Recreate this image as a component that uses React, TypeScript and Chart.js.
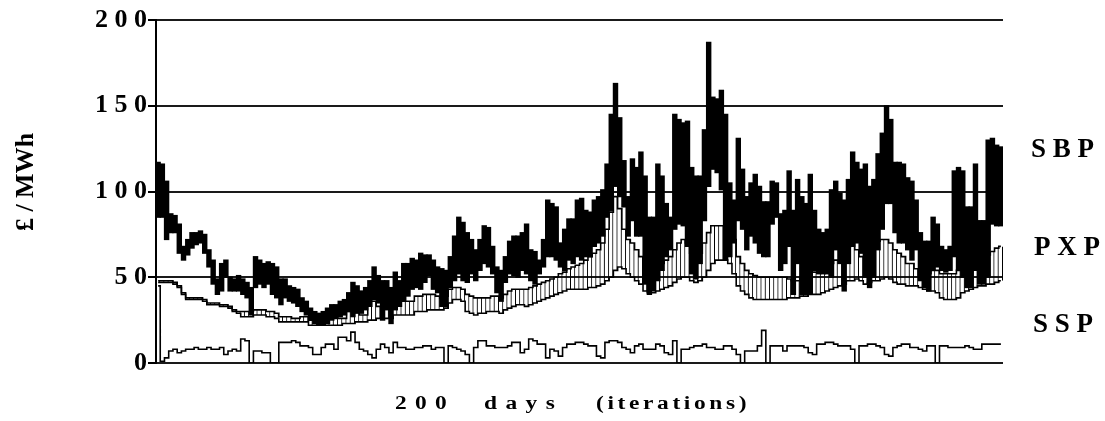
import React, { useEffect, useRef } from 'react';
import { Chart, registerables } from 'chart.js';

Chart.register(...registerables);

// 200 days (iterations)
const days: string[] = Array.from({ length: 200 }, (_, i) => String(i + 1));

// System Buy Price: daily high / low (£/MWh)
const sbpHigh: number[] = [
  117, 116, 106, 87, 86, 81, 68, 72, 76, 76,
  77, 75, 66, 60, 49, 58, 60, 50, 49, 51,
  49, 47, 44, 62, 60, 58, 59, 58, 56, 49,
  49, 45, 44, 43, 38, 36, 32, 30, 29, 30,
  32, 34, 34, 36, 37, 41, 47, 45, 42, 44,
  48, 56, 51, 48, 48, 44, 53, 48, 58, 58,
  61, 60, 64, 63, 63, 60, 56, 55, 54, 62,
  74, 85, 82, 76, 72, 66, 72, 80, 79, 68,
  56, 54, 62, 71, 74, 74, 76, 81, 66, 65,
  60, 72, 95, 93, 91, 70, 78, 84, 84, 95,
  96, 89, 88, 95, 97, 101, 116, 145, 163, 143,
  118, 97, 119, 114, 123, 109, 85, 85, 116, 109,
  93, 85, 145, 142, 140, 141, 114, 109, 109, 136,
  187, 155, 154, 159, 145, 105, 95, 131, 113, 97,
  105, 110, 103, 94, 94, 106, 105, 87, 89, 112,
  89, 107, 97, 93, 110, 89, 78, 76, 78, 101,
  106, 99, 95, 107, 123, 117, 113, 116, 103, 107,
  122, 134, 150, 142, 117, 117, 116, 108, 106, 95,
  76, 71, 71, 85, 81, 68, 66, 68, 112, 114,
  112, 91, 91, 116, 83, 83, 130, 131, 127, 126,
];
const sbpLow: number[] = [
  85, 85, 72, 76, 76, 64, 60, 63, 67, 69,
  70, 64, 56, 46, 40, 42, 50, 42, 42, 42,
  40, 38, 28, 44, 46, 44, 46, 40, 38, 34,
  38, 36, 35, 33, 30, 28, 25, 23, 22, 22,
  23, 25, 26, 27, 28, 30, 27, 29, 29, 31,
  33, 37, 35, 25, 31, 23, 31, 33, 36, 39,
  43, 44, 43, 47, 51, 43, 41, 33, 33, 44,
  48, 52, 48, 47, 52, 48, 54, 58, 56, 52,
  41, 36, 47, 52, 51, 50, 54, 52, 48, 46,
  52, 56, 62, 62, 60, 56, 54, 60, 58, 62,
  60, 62, 62, 68, 70, 74, 85, 89, 103, 97,
  91, 74, 83, 74, 74, 46, 40, 42, 48, 54,
  62, 66, 78, 81, 80, 68, 52, 49, 58, 83,
  103, 113, 111, 101, 60, 62, 70, 83, 78, 66,
  74, 70, 64, 62, 62, 81, 85, 54, 58, 68,
  40, 58, 40, 40, 40, 54, 52, 52, 52, 50,
  66, 58, 42, 58, 68, 70, 64, 50, 44, 50,
  66, 78, 93, 93, 76, 70, 70, 66, 60, 66,
  48, 44, 42, 54, 56, 54, 53, 54, 62, 54,
  50, 44, 44, 54, 46, 46, 50, 81, 80, 80,
];

// Power Exchange Price: daily high / low
const pxpHigh: number[] = [
  48, 48, 48, 48, 47, 45, 41, 38, 38, 38,
  38, 37, 35, 35, 35, 34, 34, 33, 31, 30,
  30, 30, 30, 31, 31, 31, 30, 30, 29, 27,
  27, 27, 26, 26, 27, 27, 25, 25, 25, 25,
  26, 26, 26, 26, 26, 30, 34, 32, 28, 28,
  36, 36, 33, 33, 33, 33, 36, 36, 36, 36,
  36, 39, 39, 40, 40, 40, 39, 38, 39, 43,
  44, 44, 43, 40, 39, 38, 38, 38, 38, 39,
  39, 38, 40, 42, 43, 43, 43, 43, 44, 45,
  46, 47, 48, 49, 50, 52, 53, 55, 56, 57,
  58, 60, 62, 64, 66, 70, 78, 88, 97, 90,
  78, 72, 70, 66, 62, 56, 55, 55, 56, 58,
  60, 62, 66, 70, 72, 70, 64, 62, 64, 70,
  76, 80, 80, 80, 80, 78, 72, 62, 58, 54,
  52, 51, 50, 50, 50, 50, 50, 50, 50, 49,
  48, 48, 50, 52, 53, 53, 53, 53, 55, 58,
  60, 60, 62, 68, 70, 66, 62, 62, 66, 70,
  71, 72, 72, 70, 66, 64, 62, 58, 58, 55,
  50, 50, 52, 54, 54, 52, 52, 52, 52, 54,
  56, 56, 56, 58, 60, 62, 63, 65, 67, 68,
];
const pxpLow: number[] = [
  47, 47, 47, 47, 46, 44, 40, 37, 37, 37,
  37, 36, 34, 34, 34, 33, 33, 32, 30, 29,
  27, 27, 27, 28, 28, 28, 27, 27, 26, 24,
  24, 24, 24, 24, 24, 24, 22, 22, 22, 22,
  22, 22, 22, 22, 23, 23, 23, 24, 24, 24,
  25, 25, 26, 26, 26, 26, 28, 28, 28, 28,
  28, 30, 30, 30, 31, 31, 31, 31, 32, 35,
  37, 37, 36, 30, 29, 28, 29, 29, 30, 30,
  30, 29, 31, 32, 33, 34, 34, 33, 34, 35,
  36, 37, 38, 39, 40, 41, 42, 43, 43, 43,
  43, 43, 44, 44, 45, 46, 48, 50, 54, 56,
  55, 52, 50, 48, 46, 42, 41, 41, 42, 43,
  44, 45, 47, 49, 50, 50, 48, 47, 48, 50,
  54, 58, 60, 60, 60, 58, 52, 45, 42, 40,
  38, 37, 37, 37, 37, 37, 37, 37, 37, 38,
  38, 38, 39, 39, 40, 40, 40, 41, 42, 43,
  44, 45, 46, 48, 48, 49, 48, 46, 47, 48,
  48, 49, 50, 49, 47, 46, 46, 45, 45, 45,
  44, 43, 42, 42, 41, 38, 37, 37, 37, 38,
  41, 42, 43, 44, 45, 45, 46, 46, 47, 48,
];

// System Sell Price
const ssp: number[] = [
  45, 1, 3, 7, 8, 6, 7, 8, 8, 9,
  8, 8, 9, 8, 8, 9, 5, 7, 8, 7,
  14, 13, 0, 7, 7, 6, 6, 0, 0, 12,
  12, 12, 13, 12, 10, 10, 9, 5, 5, 9,
  11, 11, 8, 15, 15, 13, 18, 12, 8, 7,
  5, 3, 8, 11, 9, 6, 12, 9, 9, 8,
  8, 9, 9, 10, 10, 8, 9, 9, 0, 10,
  9, 8, 7, 5, 0, 9, 13, 13, 10, 10,
  9, 9, 9, 10, 12, 12, 6, 8, 14, 13,
  11, 11, 3, 8, 7, 4, 9, 11, 11, 12,
  12, 11, 10, 10, 4, 3, 12, 13, 13, 12,
  9, 8, 6, 10, 11, 8, 8, 8, 11, 10,
  6, 5, 13, 0, 8, 8, 9, 10, 10, 11,
  9, 9, 8, 8, 10, 10, 8, 5, 0, 7,
  7, 7, 10, 19, 0, 10, 10, 10, 7, 10,
  10, 10, 10, 9, 6, 5, 11, 11, 12, 12,
  11, 10, 10, 10, 8, 0, 10, 10, 11, 11,
  10, 9, 5, 4, 9, 10, 11, 11, 9, 9,
  8, 7, 10, 10, 0, 10, 10, 9, 9, 9,
  9, 10, 9, 8, 8, 11, 11, 11, 11, 11,
];

const yTicks: number[] = [0, 50, 100, 150, 200];
const seriesNames: string[] = ['S B P', 'P X P', 'S S P'];
const yTitle = '£ / MWh';
const xTitleParts: string[] = ['200', 'days', '(iterations)'];

const FONT = '"Liberation Serif", "Times New Roman", serif';

const textPlugin = {
  id: 'textPlugin',
  afterDraw(chart: any) {
    const ctx = chart.ctx as CanvasRenderingContext2D;
    ctx.save();
    ctx.fillStyle = '#000';
    ctx.textAlign = 'left';
    ctx.textBaseline = 'alphabetic';
    ctx.font = `bold 27px ${FONT}`;
    const nameX = [1031, 1034, 1033];
    const nameY = [157, 255, 332];
    seriesNames.forEach((n, i) => ctx.fillText(n, nameX[i], nameY[i]));

    // y title
    ctx.save();
    ctx.translate(33, 182);
    ctx.rotate(-Math.PI / 2);
    ctx.textAlign = 'center';
    ctx.font = `bold 26px ${FONT}`;
    ctx.fillText(yTitle, 0, 0);
    ctx.restore();

    // x title (wide, letter-spaced lettering)
    const partX = [395, 484, 596];
    const partLS = [6.4, 6.5, 2.8];
    ctx.font = `bold 18px ${FONT}`;
    xTitleParts.forEach((p, i) => {
      ctx.save();
      ctx.translate(partX[i], 409);
      ctx.scale(1.3, 1);
      (ctx as any).letterSpacing = `${partLS[i]}px`;
      ctx.fillText(p, 0, 0);
      ctx.restore();
    });
    ctx.restore();
  },
};

const stepLine = (label: string, data: number[], width: number, order: number) =>
  ({
    type: 'line',
    label,
    data,
    borderColor: '#000',
    borderWidth: width,
    pointRadius: 0,
    stepped: 'middle',
    fill: false,
    order,
  } as any);

export default function App() {
  const ref = useRef<HTMLCanvasElement | null>(null);
  useEffect(() => {
    if (!ref.current) return;
    const chart = new Chart(ref.current, {
      type: 'bar',
      data: {
        labels: days,
        datasets: [
          stepLine('SSP', ssp, 1.6, 0),
          {
            type: 'bar',
            label: 'SBP',
            data: sbpLow.map((l, i) => [l, sbpHigh[i]]),
            backgroundColor: '#000',
            borderWidth: 0,
            grouped: false,
            barPercentage: 1,
            categoryPercentage: 1,
            inflateAmount: 0.6,
            order: 1,
          } as any,
          stepLine('PXP high', pxpHigh, 1.6, 2),
          stepLine('PXP low', pxpLow, 1.6, 2),
          {
            type: 'bar',
            label: 'PXP',
            data: pxpLow.map((l, i) => [l, pxpHigh[i]]),
            backgroundColor: 'rgba(0,0,0,0)',
            borderColor: '#000',
            borderWidth: { top: 0, bottom: 0, left: 0, right: 1 },
            borderSkipped: false,
            grouped: false,
            barPercentage: 1,
            categoryPercentage: 1,
            inflateAmount: 0,
            order: 3,
          } as any,
        ],
      },
      options: {
        responsive: false,
        animation: false,
        events: [],
        layout: { padding: { left: 0, right: 102, top: 20, bottom: 58 } },
        plugins: {
          legend: { display: false },
          tooltip: { enabled: false },
          title: { display: false },
        },
        scales: {
          x: {
            type: 'category',
            display: false,
            offset: true,
            grid: { display: false },
          },
          y: {
            type: 'linear',
            min: 0,
            max: 200,
            afterFit: (scale: any) => {
              scale.width = 156;
            },
            afterBuildTicks: (scale: any) => {
              scale.ticks = yTicks.map((v) => ({ value: v }));
            },
            ticks: {
              color: '#000',
              padding: 1,
              font: { family: FONT, size: 26, weight: 'bold' },
              callback: (v: any) => String(v).split('').join(' '),
            },
            grid: {
              color: '#1a1a1a',
              lineWidth: 2,
              drawTicks: true,
              tickLength: 8,
              tickColor: '#000',
              tickWidth: 2,
            },
            border: { display: true, color: '#000', width: 2 },
          },
        },
      } as any,
      plugins: [textPlugin],
    });
    return () => chart.destroy();
  }, []);

  return (
    <div style={{ position: 'fixed', left: 0, top: 0, width: 1105, height: 421, background: '#fff' }}>
      <canvas ref={ref} width={1105} height={421} style={{ display: 'block' }} />
    </div>
  );
}
